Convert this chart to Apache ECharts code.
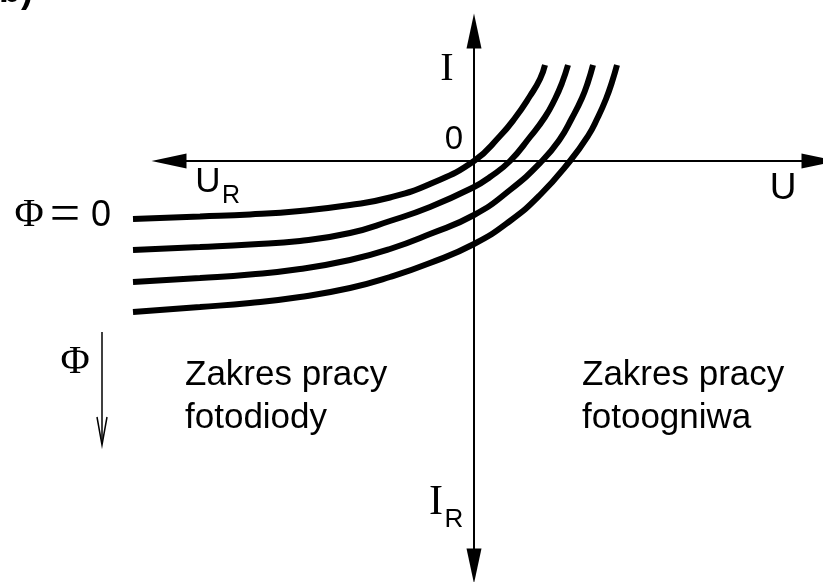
<!DOCTYPE html>
<html>
<head>
<meta charset="utf-8">
<title>Charakterystyka fotodiody</title>
<script src="https://cdn.jsdelivr.net/npm/echarts@6/dist/echarts.min.js"></script>
<style>
  html, body { margin: 0; padding: 0; background: #fff; }
  #chart { width: 823px; height: 582px; }
</style>
</head>
<body>
<div id="chart"></div>
<script>
// I(U) characteristics of a photodiode for increasing light flux Φ.
// Points are [U, I] in arbitrary units; origin at the axes crossing.
const curvePhi0 = [
  [-34.1, -5.8], [-27.4, -5.55], [-22.4, -5.35], [-17.4, -5.0], [-12.4, -4.4],
  [-8.4, -3.65], [-4.4, -2.3], [0, 0], [2.6, 2.5], [4.1, 4.3], [5.6, 6.5],
  [6.6, 8.2], [7.1, 9.6]
];
const curvePhi1 = [
  [-34.1, -8.9], [-27.4, -8.6], [-22.4, -8.35], [-17.4, -8.0], [-12.4, -7.2],
  [-8.4, -6.0], [-4.4, -4.6], [0, -2.6], [1.6, -1.6], [3.6, 0], [5.6, 2.4],
  [7.1, 4.4], [8.1, 6.2], [8.8, 7.8], [9.4, 9.6]
];
const curvePhi2 = [
  [-34.1, -12.1], [-27.4, -11.7], [-22.4, -11.35], [-17.4, -10.8], [-12.4, -9.9],
  [-8.4, -8.8], [-4.4, -7.3], [0, -5.4], [3.6, -2.9], [6.8, 0], [8.6, 2.2],
  [9.8, 4.3], [10.8, 6.3], [11.4, 7.9], [11.9, 9.6]
];
const curvePhi3 = [
  [-34.1, -15.1], [-27.4, -14.6], [-22.4, -14.2], [-17.4, -13.6], [-12.4, -12.7],
  [-8.4, -11.6], [-4.4, -10.2], [0, -8.3], [3.6, -6.0], [6.6, -3.4], [9.6, 0],
  [11.4, 2.5], [12.4, 4.4], [13.2, 6.2], [13.8, 7.9], [14.3, 9.6]
];
const curves = [curvePhi0, curvePhi1, curvePhi2, curvePhi3];

// Axis extents (arbitrary units): the plotted curves reach a little further
// left than the drawn U axis arrow.
const uCurveMin = -34.1;
const uAxisMin = -30.5;
const uMax = 34.5;
const iMin = -40.5;
const iMax = 13;

const SANS = 'Liberation Sans';
const SERIF = 'Liberation Serif';

function label(text, x, y, size, family, align) {
  return {
    type: 'text', x: x, y: y, silent: true,
    style: {
      text: text, fontSize: size, fontFamily: family, fill: '#000',
      textAlign: align || 'center', textVerticalAlign: 'middle'
    }
  };
}

const chart = echarts.init(document.getElementById('chart'), null, { renderer: 'canvas' });

const hidden = { show: false };
const arrowLine = {
  show: true,
  onZero: true,
  symbol: ['triangle', 'triangle'],
  symbolSize: [15, 35],
  lineStyle: { color: '#000', width: 2 }
};

chart.setOption({
  backgroundColor: '#fff',
  animation: false,
  grid: [
    // grid 0: curves
    { left: 133, right: 4, top: 31, bottom: 16 },
    // grid 1: the two arrowed axes
    { left: 169, right: 4, top: 31, bottom: 16 }
  ],
  xAxis: [
    { gridIndex: 0, type: 'value', min: uCurveMin, max: uMax,
      axisLine: hidden, axisTick: hidden, axisLabel: hidden, splitLine: hidden },
    { gridIndex: 1, type: 'value', min: uAxisMin, max: uMax,
      axisLine: arrowLine, axisTick: hidden, axisLabel: hidden, splitLine: hidden }
  ],
  yAxis: [
    { gridIndex: 0, type: 'value', min: iMin, max: iMax,
      axisLine: hidden, axisTick: hidden, axisLabel: hidden, splitLine: hidden },
    { gridIndex: 1, type: 'value', min: iMin, max: iMax,
      axisLine: arrowLine, axisTick: hidden, axisLabel: hidden, splitLine: hidden }
  ],
  series: curves.map(function (c) {
    return {
      type: 'line',
      xAxisIndex: 0,
      yAxisIndex: 0,
      data: c,
      smooth: 0.5,
      showSymbol: false,
      silent: true,
      z: 3,
      lineStyle: { color: '#000', width: 6, cap: 'butt' }
    };
  }),
  graphic: [
    {
      type: 'text', x: 16, y: -8, silent: true,
      style: { text: 'b)', fontSize: 36, fontWeight: 'bold', fontFamily: SANS, fill: '#000',
               textAlign: 'center', textVerticalAlign: 'middle' }
    },
    label('I', 447, 69, 40, SERIF),
    label('0', 454, 140, 33, SANS),
    label('U', 208, 182, 35, SANS),
    label('R', 231, 196, 25, SANS),
    label('U', 783, 189, 37, SANS),
    label('Φ', 29, 215, 40, SERIF),
    label('=', 65, 217, 54, SERIF),
    label('0', 101, 216, 36, SANS),
    label('Φ', 75, 362, 40, SERIF),
    {
      type: 'line', silent: true,
      shape: { x1: 102, y1: 332, x2: 102, y2: 444 },
      style: { stroke: '#000', lineWidth: 1.5 }
    },
    {
      type: 'polyline', silent: true,
      shape: { points: [[97, 417], [102, 445], [107, 417]] },
      style: { stroke: '#000', lineWidth: 1.5, fill: null }
    },
    label('Zakres pracy', 185, 375, 35, SANS, 'left'),
    label('fotodiody', 185, 418, 35, SANS, 'left'),
    label('Zakres pracy', 582, 375, 35, SANS, 'left'),
    label('fotoogniwa', 582, 418, 35, SANS, 'left'),
    label('I', 436, 503, 42, SERIF),
    label('R', 454, 520, 26, SANS)
  ]
});
</script>
</body>
</html>
